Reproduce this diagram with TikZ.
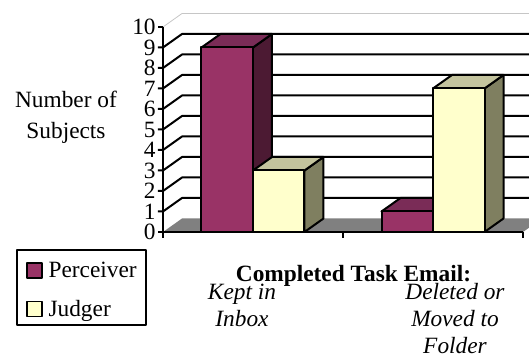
\documentclass[tikz,border=0pt]{standalone}
\usepackage{fontspec}
\setmainfont{Liberation Serif}
\newfontfamily\chartfont{Liberation Serif}
\usepackage{tikz}

\definecolor{plum}{HTML}{993366}
\definecolor{plumtop}{HTML}{7A2C57}
\definecolor{plumside}{HTML}{4C1A33}
\definecolor{cream}{HTML}{FFFFCC}
\definecolor{creamtop}{HTML}{C4C49E}
\definecolor{creamside}{HTML}{7F7F60}

\begin{document}
\begin{tikzpicture}[line join=round, x=0.75pt, y=0.75pt,
    gridline/.style={line width=1.5pt},
    wall/.style={gray!45, line width=0.6pt},
    face/.style={draw=black, line width=1.5pt},
    lbl/.style={font=\chartfont\fontsize{17.5}{20.25}\selectfont, inner sep=0pt}]

                \clip (-163,-124) rectangle (366,232);

                % floor and top edge of the walls
                \fill[gray] (0,0) -- (360,0) -- (379,13.5) -- (19,13.5) -- cycle;
                \draw[wall] (0,205) -- (19,218.5) -- (366,218.5);

                % gridlines, ticks and values
                \draw[gridline] (0,0) -- (-5,0) node[lbl, anchor=east, xshift=-1pt] (v0) {0};
                \draw[gridline] (366,34) -- (19,34) -- (0,20.5) -- (-5,20.5) node[lbl, anchor=east, xshift=-1pt] (v1) {1};
                \draw[gridline] (366,54.5) -- (19,54.5) -- (0,41) -- (-5,41) node[lbl, anchor=east, xshift=-1pt] (v2) {2};
                \draw[gridline] (366,75) -- (19,75) -- (0,61.5) -- (-5,61.5) node[lbl, anchor=east, xshift=-1pt] (v3) {3};
                \draw[gridline] (366,95.5) -- (19,95.5) -- (0,82) -- (-5,82) node[lbl, anchor=east, xshift=-1pt] (v4) {4};
                \draw[gridline] (366,116) -- (19,116) -- (0,102.5) -- (-5,102.5) node[lbl, anchor=east, xshift=-1pt] (v5) {5};
                \draw[gridline] (366,136.5) -- (19,136.5) -- (0,123) -- (-5,123) node[lbl, anchor=east, xshift=-1pt] (v6) {6};
                \draw[gridline] (366,157) -- (19,157) -- (0,143.5) -- (-5,143.5) node[lbl, anchor=east, xshift=-1pt] (v7) {7};
                \draw[gridline] (366,177.5) -- (19,177.5) -- (0,164) -- (-5,164) node[lbl, anchor=east, xshift=-1pt] (v8) {8};
                \draw[gridline] (366,198) -- (19,198) -- (0,184.5) -- (-5,184.5) node[lbl, anchor=east, xshift=-1pt] (v9) {9};
                \draw[gridline] (0,205) -- (-5,205) node[lbl, anchor=east, xshift=-1pt] (v10) {10};

                % kept in inbox
                \filldraw[face, fill=plumside] (90,0) -- (109,13.5) -- (109,198) -- (90,184.5) -- cycle;
                \filldraw[face, fill=plumtop] (38.5,184.5) -- (57.5,198) -- (109,198) -- (90,184.5) -- cycle;
                \filldraw[face, fill=plum] (38.5,0) rectangle (90,184.5);
                \filldraw[face, fill=creamside] (141.5,0) -- (160.5,13.5) -- (160.5,75) -- (141.5,61.5) -- cycle;
                \filldraw[face, fill=creamtop] (90,61.5) -- (109,75) -- (160.5,75) -- (141.5,61.5) -- cycle;
                \filldraw[face, fill=cream] (90,0) rectangle (141.5,61.5);

                % deleted or moved
                \filldraw[face, fill=plumside] (270,0) -- (289,13.5) -- (289,34) -- (270,20.5) -- cycle;
                \filldraw[face, fill=plumtop] (218.5,20.5) -- (237.5,34) -- (289,34) -- (270,20.5) -- cycle;
                \filldraw[face, fill=plum] (218.5,0) rectangle (270,20.5);
                \filldraw[face, fill=creamside] (321.5,0) -- (340.5,13.5) -- (340.5,157) -- (321.5,143.5) -- cycle;
                \filldraw[face, fill=creamtop] (270,143.5) -- (289,157) -- (340.5,157) -- (321.5,143.5) -- cycle;
                \filldraw[face, fill=cream] (270,0) rectangle (321.5,143.5);

                % axes
                \draw[gridline] (0,205) -- (0,0) -- (360,0);
                \draw[gridline] (0,0) -- (0,-6);
                \draw[gridline] (180,0) -- (180,-6);
                \draw[gridline] (360,0) -- (360,-6);

                \node[lbl, align=center, anchor=north, font=\chartfont\fontsize{17.5}{23}\selectfont] (ytitle) at (-97,140.7) {Number of\\Subjects};

                % legend
                \draw[line width=1.5pt] (-146,-18) rectangle (-17,-93);
                \filldraw[face, fill=plum, line width=1.2pt] (-136,-31) rectangle (-121,-46);
                \filldraw[face, fill=cream, line width=1.2pt] (-136,-69.5) rectangle (-121,-84.5);
                \node[lbl, anchor=base west] (perc) at (-114.7,-46) {Perceiver};
                \node[lbl, anchor=base west] (judg) at (-114.7,-85) {Judger};

                % category labels
                \node[lbl, anchor=base] (xtitle) at (190.5,-50) {\bfseries Completed Task Email:};
                \node[lbl, align=center, anchor=north] (kept) at (79,-51.8) {\itshape Kept in\\\itshape Inbox};
                \node[lbl, align=center, anchor=north] (moved) at (292,-51.3) {\itshape Deleted or\\\itshape Moved to\\\itshape Folder};

            \end{tikzpicture}
\end{document}
